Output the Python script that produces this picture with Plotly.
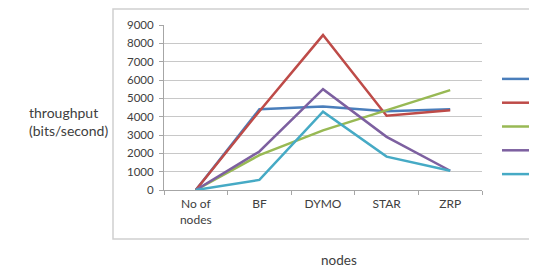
import plotly.graph_objects as go

categories = ["No of<br>nodes", "BF", "DYMO", "STAR", "ZRP"]
series_names = ["", "", "", "", ""]
blue = [0, 4400, 4550, 4300, 4400]
red = [0, 4300, 8450, 4050, 4350]
green = [0, 1900, 3250, 4350, 5450]
purple = [0, 2100, 5500, 2900, 1050]
cyan = [0, 550, 4270, 1820, 1050]
colors = ["#4A7EBB", "#BE4B48", "#98B954", "#7D60A0", "#46AAC5"]
y_ticks = [0, 1000, 2000, 3000, 4000, 5000, 6000, 7000, 8000, 9000]

fig = go.Figure()
for name, vals, c in zip(series_names, [blue, red, green, purple, cyan], colors):
    fig.add_trace(go.Scatter(x=categories, y=vals, mode="lines", name=name,
                             line=dict(color=c, width=2.5), showlegend=True))

OFF = 8  # page body margin
L, R, T, B = 164, 482, 25, 190  # window pixel coordinates of plot area
W, H = 537, 269
pw, ph = R - L, B - T

def px(x):
    return (x - L) / pw

def py(y):
    return (B - y) / ph

fig.update_layout(
    width=W, height=H,
    margin=dict(l=L - OFF, r=W - R + OFF, t=T - OFF, b=H - B + OFF, autoexpand=False),
    paper_bgcolor="white", plot_bgcolor="white",
    font=dict(family="Lato, Open Sans, sans-serif", size=11, color="#404040"),
    showlegend=True,
    legend=dict(x=px(497), y=py(62), xanchor="left", yanchor="top",
                bgcolor="rgba(0,0,0,0)", font=dict(size=16),
                tracegroupgap=0, itemwidth=30),
    xaxis=dict(type="category", range=[-0.5, 4.5], showgrid=False,
               showline=True, linecolor="#A6A6A6", linewidth=1,
               ticks="outside", tickson="boundaries", ticklen=4, tickcolor="#A6A6A6",
               ticklabelstandoff=3,
               tickfont=dict(size=12, color="#404040"), fixedrange=True),
    yaxis=dict(range=[0, 9000], tickvals=y_ticks, showgrid=True, gridcolor="#C8C8C8",
               gridwidth=1, showline=True, linecolor="#A6A6A6", linewidth=1,
               ticks="outside", ticklen=4, tickcolor="#A6A6A6", zeroline=False,
               ticklabelstandoff=3,
               tickfont=dict(size=11.5, color="#404040"), fixedrange=True),
    shapes=[dict(type="rect", xref="paper", yref="paper",
                 x0=px(113), x1=px(550), y0=py(239), y1=py(9),
                 line=dict(color="#D0D0D0", width=1.5), layer="below")],
    annotations=[
        dict(text="throughput<br>(bits/second)", xref="paper", yref="paper",
             x=px(27), y=py(121), xanchor="left", yanchor="middle", showarrow=False,
             align="left", font=dict(size=14, color="#404040")),
        dict(text="nodes", xref="paper", yref="paper", x=px(339), y=py(260),
             xanchor="center", yanchor="middle", showarrow=False,
             font=dict(size=13.5, color="#404040")),
    ],
)

fig.write_html("out.html")
